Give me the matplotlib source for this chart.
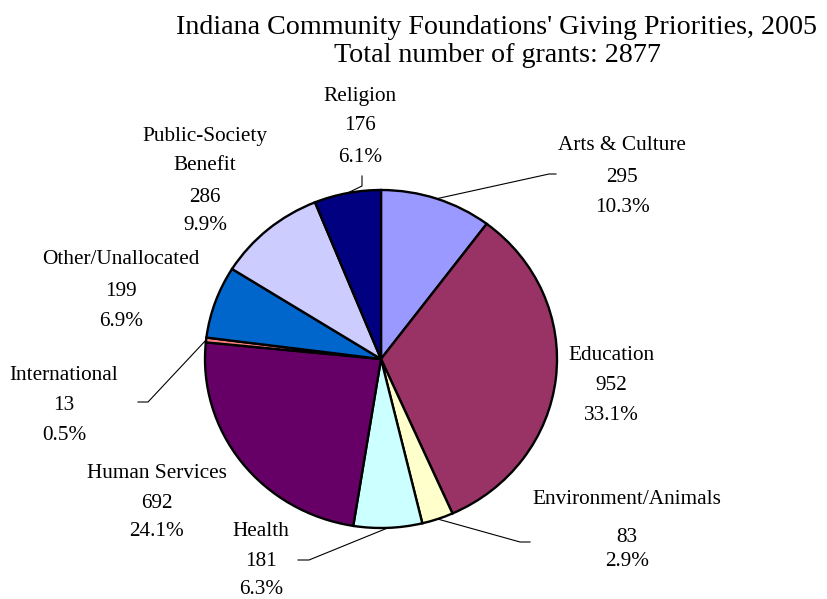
import matplotlib
matplotlib.use("Agg")
import matplotlib.pyplot as plt
import numpy as np

plt.rcParams['font.family'] = ['Liberation Serif', 'DejaVu Serif']

# data
categories = ["Arts & Culture", "Education", "Environment/Animals", "Health",
              "Human Services", "International", "Other/Unallocated",
              "Public-Society\nBenefit", "Religion"]
values = [295, 952, 83, 181, 692, 13, 199, 286, 176]
colors = ["#9999FF", "#993366", "#FFFFCC", "#CCFFFF", "#660066",
          "#FF8080", "#0066CC", "#CCCCFF", "#000080"]
total = sum(values)

# layout in pixels (image coords, y from top)
cx, cy, rx, ry = 381, 359, 176, 169
label_x = [622, 611, 627, 261, 157, 64, 121, 205, 360]
label_y = [[143, 174, 205], [353, 383, 413], [496, 535, 558], [529, 559, 587],
           [470, 500, 529], [372, 402, 432], [257, 288, 318],
           [133, 163, 194, 223], [93, 123, 154]]
# leader lines: (elbow, end) or None
leaders = [((549, 174), (556, 174)), None, ((520, 542), (530, 542)),
           ((309, 560), (298, 560)), None, ((148, 402), (138, 402)),
           None, None, ((362, 186), (362, 176))]
dy = 3  # text centre correction


def px(x, y):
    return (x - cx) / rx, (cy - y) / ry


fig = plt.figure(figsize=(8.27, 5.99), dpi=100)
ax = fig.add_axes([0, 0, 1, 1])
wedges, _ = ax.pie(values, colors=colors, startangle=90, counterclock=False,
                   radius=1, center=(0, 0),
                   wedgeprops=dict(edgecolor="black", linewidth=1.7))
ax.set_aspect("auto")
ax.set_xlim((0 - cx) / rx, (827 - cx) / rx)
ax.set_ylim((cy - 599) / ry, (cy - 0) / ry)
ax.axis("off")

for i, (cat, v) in enumerate(zip(categories, values)):
    lines = cat.split("\n") + [str(v), f"{v / total * 100:.1f}%"]
    for txt, y in zip(lines, label_y[i]):
        ax.text(*px(label_x[i], y + dy), txt, ha="center", va="center",
                fontsize=15.3)
    if leaders[i] is not None:
        w = wedges[i]
        ang = np.deg2rad((w.theta1 + w.theta2) / 2)
        (ex, ey), (fx, fy) = leaders[i]
        p1 = px(ex, ey)
        p2 = px(fx, fy)
        ax.plot([np.cos(ang), p1[0], p2[0]], [np.sin(ang), p1[1], p2[1]],
                color="black", lw=0.8)

ax.text(*px(497, 25 + dy), "Indiana Community Foundations' Giving Priorities, 2005",
        ha="center", va="center", fontsize=20.2)
ax.text(*px(497, 53 + dy), "Total number of grants: 2877",
        ha="center", va="center", fontsize=20.2)

fig.savefig("out.png", dpi=100)
